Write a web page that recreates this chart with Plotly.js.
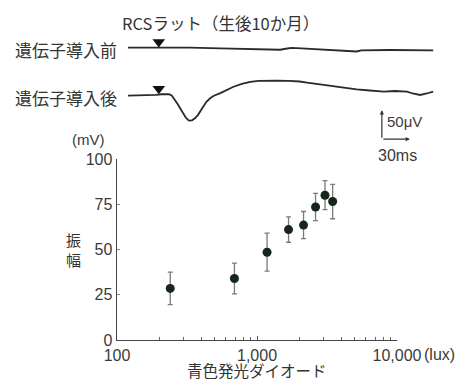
<!DOCTYPE html>
<html>
<head>
<meta charset="utf-8">
<script src="https://cdn.plot.ly/plotly-3.0.1.min.js"></script>
<style>html,body{margin:0;padding:0;background:#fff;}#chart{width:461px;height:380px;}</style>
</head>
<body>
<div id="chart"></div>
<script>
// ---- Data: amplitude vs. blue LED illuminance ----
const luxValues = [240, 690, 1180, 1680, 2150, 2620, 3060, 3470];
const amplitudes = [28.5, 34, 48.5, 61, 63.5, 73.5, 80, 76.5];
const amplitudeErrors = [9, 8.5, 10.5, 7, 7.5, 7.5, 8, 9.5];
const xTickVals = [100, 1000, 10000];
const xTickText = ['100', '1,000', '10,000'];
const xMinorTicks = [200, 300, 400, 500, 600, 700, 800, 900, 2000, 3000, 4000, 5000, 6000, 7000, 8000, 9000];
const yTickVals = [0, 25, 50, 75, 100];
const yTickText = ['0', '25', '50', '75', '100'];

// ---- Data: ERG traces (time in ms, potential in µV relative to baseline) ----
const beforeTime = [0, 33, 66, 99, 125, 145, 163, 169, 175, 181, 190, 198, 227, 240, 245, 250, 260, 281, 327];
const beforeUV   = [0, 0.3, 0.3, -1, -2.5, -3.5, -3.5, -1.8, -0.3, -0.8, -1.5, -2.2, -4, -5.5, -6.5, -4.5, -4, -4, -4.5];
const afterTime = [0, 24, 30, 36, 44, 47, 50, 53, 56, 59, 62, 65, 67, 69, 72, 75, 78, 81, 84, 88, 92, 99, 106, 113, 122, 131, 140, 150, 159, 172, 184, 192, 206, 224, 245, 259, 274, 286, 299, 305, 313, 320, 327];
const afterUV   = [0, 0.3, 1.5, 2.5, 2.5, 0, -6, -14, -22, -31, -38, -42.5, -43, -42, -38.5, -33, -25.5, -17.5, -10.5, -4.5, 0, 4.5, 10, 15.5, 20.5, 24, 25.6, 26.2, 26, 25.5, 24.5, 22.4, 19.3, 15.5, 11, 9, 6.9, 8.1, 6.9, 3.8, 1.2, 3.8, 6.9];
const stimulusMs = 33;
const scaleBarUV = 50;
const scaleBarMs = 30;

// ---- Layout helpers (pixel -> paper) ----
const W = 461, H = 380;
const px = x => x / W;
const py = y => 1 - y / H;
const pxPerMs = 28 / 30;
const pxPerUV = 29 / 50;
const ink = '#2a2a2a';
const cjk = '"Noto Sans CJK JP", "Liberation Sans", Arial, sans-serif';
const lat = '"Liberation Sans", Arial, "Noto Sans CJK JP", sans-serif';

const traces = [
  {
    x: luxValues, y: amplitudes, type: 'scatter', mode: 'markers',
    xaxis: 'x', yaxis: 'y',
    marker: {color: '#17261a', size: 9},
    error_y: {type: 'data', array: amplitudeErrors, visible: true, color: '#7a7a7a', thickness: 1.3, width: 2.5},
    hoverinfo: 'skip'
  },
  {
    x: beforeTime, y: beforeUV, type: 'scatter', mode: 'lines', xaxis: 'x2', yaxis: 'y2',
    line: {color: ink, width: 1.8, shape: 'linear'}, hoverinfo: 'skip'
  },
  {
    x: afterTime, y: afterUV, type: 'scatter', mode: 'lines', xaxis: 'x2', yaxis: 'y3',
    line: {color: ink, width: 1.8, shape: 'linear'}, hoverinfo: 'skip'
  },
  {
    x: [stimulusMs], y: [10], type: 'scatter', mode: 'markers', xaxis: 'x2', yaxis: 'y2',
    marker: {symbol: 'triangle-down', size: 11, color: '#111'}, cliponaxis: false, hoverinfo: 'skip'
  },
  {
    x: [stimulusMs], y: [12], type: 'scatter', mode: 'markers', xaxis: 'x2', yaxis: 'y3',
    marker: {symbol: 'triangle-down', size: 11, color: '#111'}, cliponaxis: false, hoverinfo: 'skip'
  }
];

const x2Range = [0, (440 - 128) / pxPerMs];
const y2Range = [-40, 40];
const y3Range = [-80, 40];
const b1 = 47.7, b2 = 95.7;

const scaleT0 = 272, scaleV0 = -75;

const layout = {
  width: W, height: H,
  margin: {l: 0, r: 0, t: 0, b: 0},
  paper_bgcolor: '#fff', plot_bgcolor: 'rgba(0,0,0,0)',
  showlegend: false,
  font: {family: lat, color: '#3a3a3a', size: 16},
  xaxis: {
    type: 'log', range: [2, 4], domain: [px(117), px(397)], anchor: 'y',
    showgrid: false, zeroline: false, showline: true, linecolor: '#444', linewidth: 1.4,
    tickmode: 'array', tickvals: xTickVals, ticktext: xTickText,
    ticks: 'inside', ticklen: 4, tickcolor: '#555', tickwidth: 1,
    tickfont: {family: lat, size: 16, color: '#3a3a3a'},
    minor: {tickmode: 'array', tickvals: xMinorTicks, ticks: 'inside', ticklen: 3, tickcolor: '#666', tickwidth: 1, showgrid: false},
    fixedrange: true
  },
  yaxis: {
    range: [0, 100], domain: [py(340), py(159)], anchor: 'x',
    showgrid: false, zeroline: false, showline: true, linecolor: '#444', linewidth: 1.4,
    tickmode: 'array', tickvals: yTickVals, ticktext: yTickText,
    ticks: 'inside', ticklen: 3, tickcolor: '#888', tickwidth: 1,
    tickfont: {family: lat, size: 16, color: '#3a3a3a'},
    fixedrange: true
  },
  xaxis2: {visible: false, range: x2Range, domain: [px(128), px(440)], anchor: 'y2', fixedrange: true},
  yaxis2: {visible: false, range: y2Range, domain: [py(b1 + 40 * pxPerUV), py(b1 - 40 * pxPerUV)], anchor: 'x2', fixedrange: true},
  yaxis3: {visible: false, range: y3Range, domain: [py(b2 + 80 * pxPerUV), py(b2 - 40 * pxPerUV)], anchor: 'x2', fixedrange: true},
  annotations: [
    {xref: 'paper', yref: 'paper', x: px(120), y: py(23), xanchor: 'left', yanchor: 'middle', showarrow: false,
     text: 'RCSラット（生後10か月）', font: {family: cjk, size: 16.5, color: '#333'}},
    {xref: 'paper', yref: 'paper', x: px(119), y: py(49), xanchor: 'right', yanchor: 'middle', showarrow: false,
     text: '遺伝子導入前', font: {family: cjk, size: 17, color: '#333'}},
    {xref: 'paper', yref: 'paper', x: px(119), y: py(97), xanchor: 'right', yanchor: 'middle', showarrow: false,
     text: '遺伝子導入後', font: {family: cjk, size: 17, color: '#333'}},
    {xref: 'paper', yref: 'paper', x: px(88), y: py(139), xanchor: 'center', yanchor: 'middle', showarrow: false,
     text: '(mV)', font: {family: lat, size: 15, color: '#3a3a3a'}},
    {xref: 'paper', yref: 'paper', x: px(73), y: py(249), xanchor: 'center', yanchor: 'middle', showarrow: false,
     text: '振<br>幅', font: {family: cjk, size: 15, color: '#333'}},
    {xref: 'paper', yref: 'paper', x: px(257), y: py(369.5), xanchor: 'center', yanchor: 'middle', showarrow: false,
     text: '青色発光ダイオード', font: {family: cjk, size: 15.5, color: '#333'}},
    {xref: 'paper', yref: 'paper', x: px(422), y: py(354), xanchor: 'left', yanchor: 'middle', showarrow: false,
     text: '(lux)', font: {family: lat, size: 16, color: '#3a3a3a'}},
    {xref: 'paper', yref: 'paper', x: px(385), y: py(121), xanchor: 'left', yanchor: 'middle', showarrow: false,
     text: scaleBarUV + 'μV', font: {family: lat, size: 15, color: '#3a3a3a'}},
    {xref: 'paper', yref: 'paper', x: px(376), y: py(155), xanchor: 'left', yanchor: 'middle', showarrow: false,
     text: scaleBarMs + 'ms', font: {family: lat, size: 16, color: '#3a3a3a'}},
    {xref: 'x2', yref: 'y3', axref: 'x2', ayref: 'y3', x: scaleT0, y: scaleV0 + scaleBarUV, ax: scaleT0, ay: scaleV0,
     text: '', showarrow: true, arrowhead: 2, arrowsize: 0.7, arrowwidth: 1.2, arrowcolor: '#333'},
    {xref: 'x2', yref: 'y3', axref: 'x2', ayref: 'y3', x: scaleT0 + scaleBarMs, y: scaleV0, ax: scaleT0, ay: scaleV0,
     text: '', showarrow: true, arrowhead: 2, arrowsize: 0.7, arrowwidth: 1.2, arrowcolor: '#333'}
  ]
};

Plotly.newPlot('chart', traces, layout, {staticPlot: true, displayModeBar: false});
</script>
</body>
</html>
